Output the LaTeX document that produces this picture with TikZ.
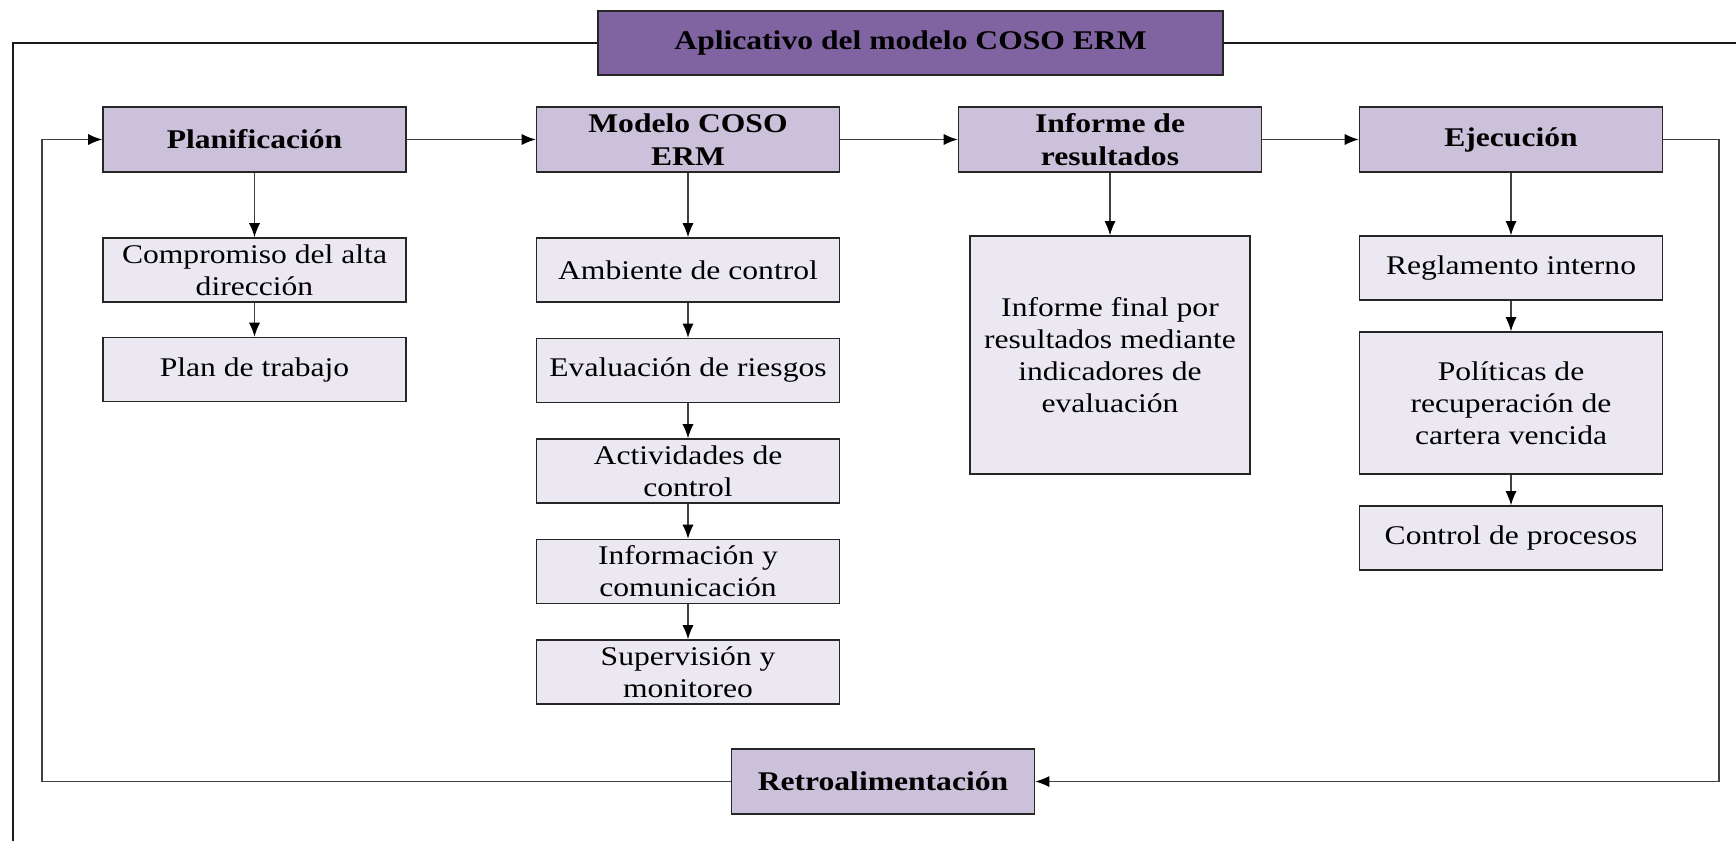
\documentclass[tikz,border=0pt]{standalone}
\usepackage{fontspec}
\setmainfont{Liberation Serif}[FakeStretch=1.17]
\usepackage{tikz}
\usetikzlibrary{arrows.meta,positioning}
\definecolor{titlefill}{RGB}{128,100,162}
\definecolor{stagefill}{RGB}{204,193,218}
\definecolor{taskfill}{RGB}{236,232,241}

\begin{document}
\begin{tikzpicture}[x=1pt,y=-1pt,>={Latex[length=14pt,width=11pt,black]},
		node distance=100pt]
		\tikzstyle{box}=[draw=black!85,line width=1.6pt,align=center,inner sep=2pt,
		font=\fontsize{27}{32}\selectfont]
		\tikzstyle{maintitle}=[box,fill=titlefill,minimum width=625pt,minimum height=64pt,
		font=\fontsize{27}{32}\selectfont\bfseries]
		\tikzstyle{stage}=[box,fill=stagefill,minimum width=303pt,minimum height=65pt,
		font=\fontsize{27}{33}\selectfont\bfseries]
		\tikzstyle{task}=[box,fill=taskfill,minimum width=303pt,minimum height=64pt]
		\tikzstyle{flow}=[->,draw=black!75,line width=1.1pt]
		
		\useasboundingbox (0,0) rectangle (1736,841);
		
		\node[maintitle] (t) at (910.5,43) {Aplicativo del modelo COSO ERM};
		
		\node[stage] (p0) at (254.5,139.5)            {Planificación};
		\node[stage] (m0) [right of=p0,node distance=433.5pt] {Modelo COSO\\ERM};
		\node[stage] (r0) [right of=m0,node distance=422pt]   {Informe de\\resultados};
		\node[stage] (e0) [right of=r0,node distance=401pt]   {Ejecución};
		\node[stage] (fb) at (883,781.5)              {Retroalimentación};
		
		\node[task] (p1) [below of=p0,node distance=130.5pt] {Compromiso del alta\\dirección};
		\node[task] (p2) [below of=p1,node distance=99.5pt]  {Plan de trabajo};
		
		\node[task] (m1) [below of=m0,node distance=130.5pt] {Ambiente de control};
		\node[task] (m2) [below of=m1,node distance=100.5pt] {Evaluación de riesgos};
		\node[task] (m3) [below of=m2,node distance=100.5pt] {Actividades de\\control};
		\node[task] (m4) [below of=m3,node distance=100.5pt] {Información y\\comunicación};
		\node[task] (m5) [below of=m4,node distance=100.5pt] {Supervisión y\\monitoreo};
		
		\node[task] (r1) [below of=r0,node distance=215.5pt,minimum width=280pt,
		minimum height=238pt] {Informe final por\\resultados mediante\\indicadores de\\evaluación};
		
		\node[task] (e1) [below of=e0,node distance=128.5pt] {Reglamento interno};
		\node[task] (e2) [below of=e1,node distance=135pt,minimum height=142pt]
		{Políticas de\\recuperación de\\cartera vencida};
		\node[task] (e3) [below of=e2,node distance=135pt] {Control de procesos};
		
		% marco exterior
		\coordinate (fl) at (13,841);
		\coordinate (fr) at (1736,43);
		\draw[black!90,line width=1.4pt] (t.west) -| (fl);
		\draw[black!90,line width=1.4pt] (t.east) -- (fr);
		
		\path[flow] (p0) edge (m0)
		(m0) edge (r0)
		(r0) edge (e0)
		(p0) edge (p1)
		(p1) edge (p2)
		(m0) edge (m1)
		(m1) edge (m2)
		(m2) edge (m3)
		(m3) edge (m4)
		(m4) edge (m5)
		(r0) edge (r1)
		(e0) edge (e1)
		(e1) edge (e2)
		(e2) edge (e3);
		
		% retroalimentacion
		\coordinate (fbr) at (1719,781.5);
		\coordinate (fbl) at (42,139.5);
		\draw[flow] (e0.east) -| (fbr) -- (fb.east);
		\draw[flow] (fb.west) -| (fbl) -- (p0.west);
\end{tikzpicture}
\end{document}
